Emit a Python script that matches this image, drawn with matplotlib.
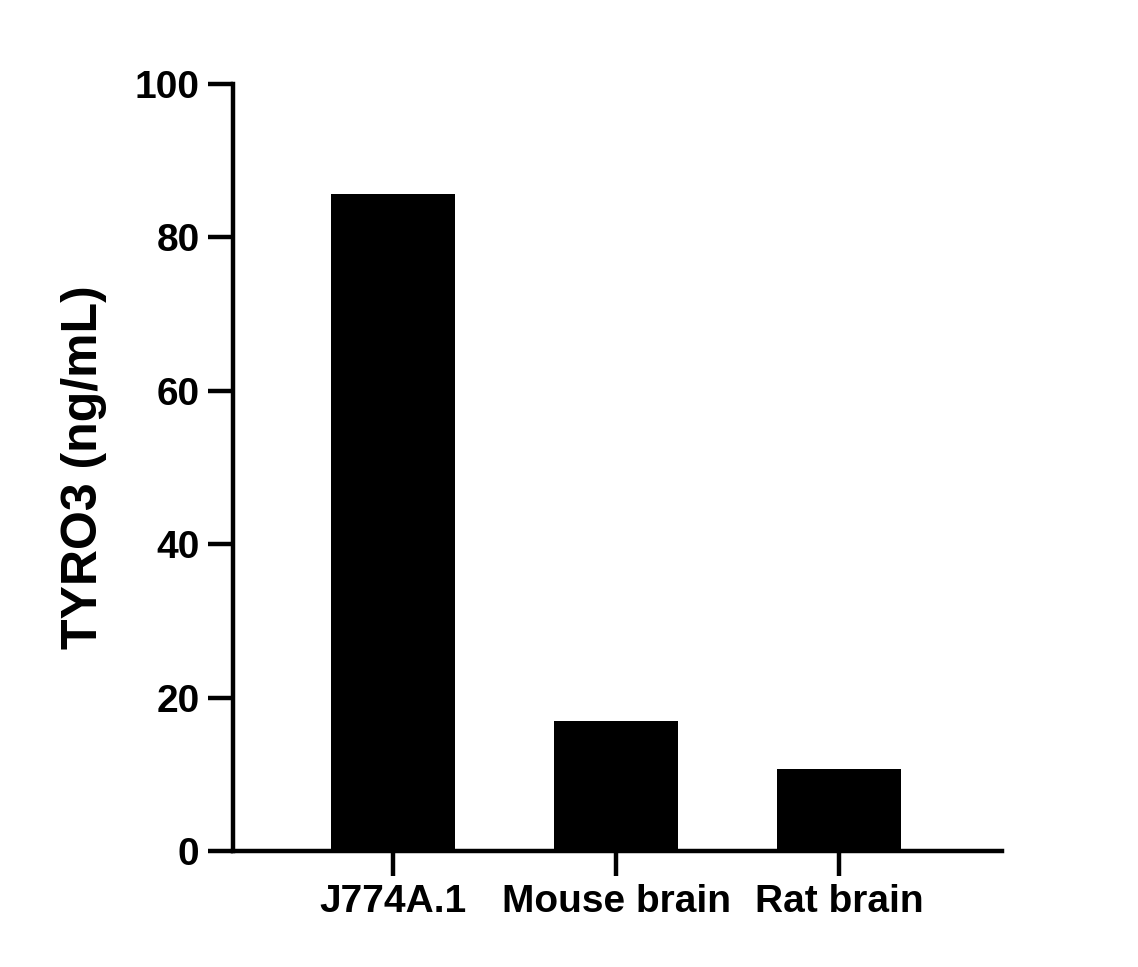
import matplotlib
matplotlib.use("Agg")
import matplotlib.pyplot as plt

categories = ["J774A.1", "Mouse brain", "Rat brain"]
values = [85.7, 16.9, 10.7]

plt.rcParams['font.family'] = ['Liberation Sans', 'DejaVu Sans']
plt.rcParams['font.weight'] = 'bold'
fig = plt.figure(figsize=(11.38, 9.67), dpi=100)
ax = fig.add_axes([0.2047, 0.12, 0.6758, 0.793])
x = list(range(len(categories)))
ax.bar(x, values, width=0.556, color='black')
ax.set_xlim(-0.717, 2.73)
ax.set_ylim(0, 100)
ax.set_yticks([0, 20, 40, 60, 80, 100])
ax.set_xticks(x)
ax.set_xticklabels(categories, fontsize=28, fontweight='bold')
for t in ax.get_yticklabels():
    t.set_fontsize(28); t.set_fontweight('bold')
ax.set_ylabel("TYRO3 (ng/mL)", fontsize=36, fontweight='bold', labelpad=20)
for s in ['top', 'right']:
    ax.spines[s].set_visible(False)
for s in ['left', 'bottom']:
    ax.spines[s].set_linewidth(3.2)
ax.tick_params(axis='both', length=18, width=3.2, pad=6)
fig.savefig("out.png", dpi=100)
